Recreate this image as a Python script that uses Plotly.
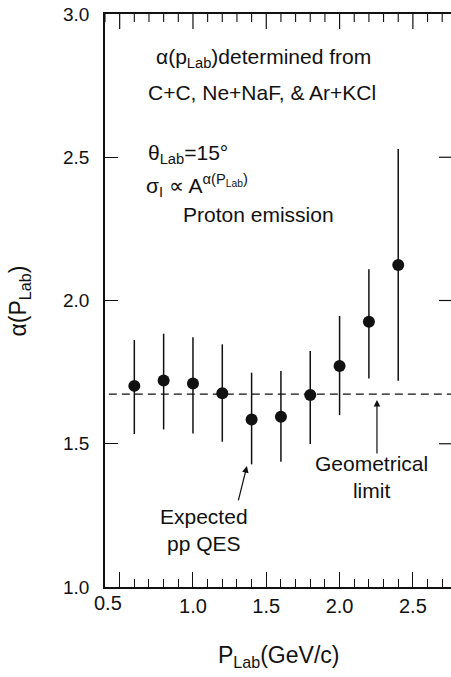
import plotly.graph_objects as go

# ---- data ----
p_lab = [0.6, 0.8, 1.0, 1.2, 1.4, 1.6, 1.8, 2.0, 2.2, 2.4]
alpha = [1.702, 1.721, 1.710, 1.676, 1.585, 1.594, 1.670, 1.771, 1.926, 2.124]
err_plus = [0.160, 0.163, 0.162, 0.171, 0.163, 0.160, 0.154, 0.175, 0.183, 0.405]
err_minus = [0.168, 0.171, 0.174, 0.169, 0.157, 0.157, 0.171, 0.171, 0.198, 0.404]
geometric_limit = 1.673

x_range = [0.4, 2.76]
y_range = [1.0, 3.0]
x_tick_vals = [0.5, 1.0, 1.5, 2.0, 2.5]
x_tick_text = ["", "1.0", "1.5", "2.0", "2.5"]
y_tick_vals = [1.0, 1.5, 2.0, 2.5, 3.0]
y_tick_text = ["1.0", "1.5", "2.0", "2.5", "3.0"]

FONT = "Liberation Sans"
INK = "#111111"
PLOT_W, PLOT_H = 346, 573

fig = go.Figure()

# geometrical limit dashed line
fig.add_trace(go.Scatter(
    x=[0.426, x_range[1]], y=[geometric_limit, geometric_limit],
    mode="lines", line=dict(color=INK, width=1.3, dash="8px,5px"),
    hoverinfo="skip", showlegend=False))

# data points with error bars
fig.add_trace(go.Scatter(
    x=p_lab, y=alpha, mode="markers",
    marker=dict(color=INK, size=12, symbol="circle"),
    error_y=dict(type="data", symmetric=False, array=err_plus, arrayminus=err_minus,
                 color=INK, thickness=1.5, width=0),
    showlegend=False))

minor_x = dict(dtick=0.1, tick0=0.4, ticks="inside", ticklen=8,
               tickwidth=1.1, tickcolor=INK, showgrid=False)

fig.update_layout(
    width=451, height=677,
    margin=dict(l=105, r=0, t=14, b=90),
    paper_bgcolor="white", plot_bgcolor="white",
    font=dict(family=FONT, color=INK),
    xaxis=dict(range=x_range, tickmode="array", tickvals=x_tick_vals, ticktext=x_tick_text,
               ticks="inside", ticklen=15, tickwidth=1.2, tickcolor=INK,
               showline=True, linecolor=INK, linewidth=1.5, mirror=True,
               showgrid=False, zeroline=False,
               tickfont=dict(size=20, family=FONT, color=INK),
               minor=minor_x),
    yaxis=dict(range=y_range, tickmode="array", tickvals=y_tick_vals, ticktext=y_tick_text,
               ticks="inside", ticklen=13, tickwidth=1.2, tickcolor=INK,
               showline=True, linecolor=INK, linewidth=1.5, mirror=False,
               showgrid=False, zeroline=False, ticklabelstandoff=10,
               tickfont=dict(size=19, family=FONT, color=INK)),
)

# top-edge ticks (major + minor) and right-edge ticks, derived from the axis tick lists
n_minor = int(round((x_range[1] - x_range[0]) / 0.1)) + 1
for i in range(n_minor):
    v = round(x_range[0] + 0.1 * i, 2)
    if v > x_range[1]:
        break
    is_major = any(abs(v - m) < 1e-6 for m in x_tick_vals)
    ln = 15 if is_major else 8
    fig.add_shape(type="line", xref="x", yref="paper", x0=v, x1=v, y0=1, y1=1 - ln / PLOT_H,
                  line=dict(color=INK, width=1.2 if is_major else 1.1), layer="above")
for v in y_tick_vals[1:-1]:
    fig.add_shape(type="line", xref="paper", yref="y", x0=1, x1=1 - 12 / PLOT_W, y0=v, y1=v,
                  line=dict(color=INK, width=1.2), layer="above")

def ann(text, x, y, size=21, xanchor="left", **kw):
    fig.add_annotation(text=text, x=x, y=y, xref="x", yref="y", showarrow=False,
                       xanchor=xanchor, yanchor="middle",
                       font=dict(size=size, family=FONT, color=INK), **kw)

ann("α(p<sub>Lab</sub>)determined from", 0.732, 2.845)
ann("C+C, Ne+NaF, & Ar+KCl", 0.678, 2.725)
ann("θ<sub>Lab</sub>=15°", 0.678, 2.51)
ann("σ<sub>I</sub> ∝ A<sup>α(P<sub>Lab</sub>)</sup>", 0.665, 2.40)
ann("Proton emission", 0.916, 2.30)
ann("Geometrical<br>limit", 2.22, 1.384, xanchor="center", align="center")
ann("Expected<br>pp QES", 1.074, 1.199, xanchor="center", align="center")

# arrows
fig.add_annotation(x=2.255, y=1.653, ax=2.255, ay=1.461, xref="x", yref="y",
                   axref="x", ayref="y", text="", showarrow=True,
                   arrowhead=2, arrowsize=1.1, arrowwidth=1.2, arrowcolor=INK)
fig.add_annotation(x=1.368, y=1.422, ax=1.307, ay=1.297, xref="x", yref="y",
                   axref="x", ayref="y", text="", showarrow=True,
                   arrowhead=2, arrowsize=1.1, arrowwidth=1.2, arrowcolor=INK)

# the 0.5 label sits under the corner in the reference
fig.add_annotation(text="0.5", x=0.42, y=0, xref="x", yref="paper", yshift=-16,
                   showarrow=False, xanchor="center", yanchor="middle",
                   font=dict(size=20, family=FONT, color=INK))

# axis titles
fig.add_annotation(text="α(P<sub>Lab</sub>)", x=-0.2457, y=0.5, xref="paper", yref="paper",
                   textangle=-90, showarrow=False, xanchor="center", yanchor="middle",
                   font=dict(size=23, family=FONT, color=INK))
fig.add_annotation(text="P<sub>Lab</sub>(GeV/c)", x=0.5, y=-0.122, xref="paper", yref="paper",
                   showarrow=False, xanchor="center", yanchor="middle",
                   font=dict(size=23, family=FONT, color=INK))

fig.write_html("out.html")
